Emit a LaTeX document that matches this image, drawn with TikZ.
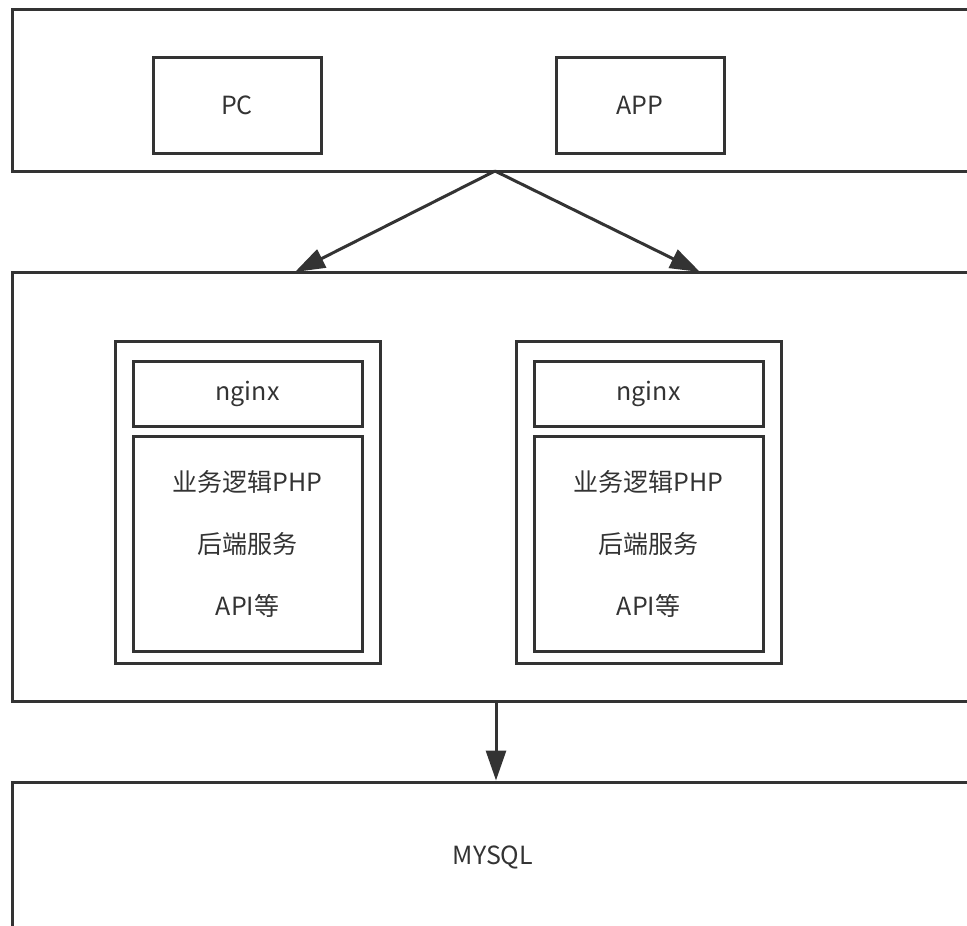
\documentclass[tikz,border=0pt]{standalone}
\usepackage{fontspec}
\setmainfont{Noto Sans CJK SC}
\usetikzlibrary{arrows.meta}
\definecolor{LineGray}{HTML}{333333}

\begin{document}
\begin{tikzpicture}[x=1pt,y=1pt,yscale=-1,xscale=1,
	frame/.style={draw=LineGray, line width=3pt, inner sep=0pt},
	txt/.style={text=LineGray, font=\fontsize{25}{30}\selectfont},
	flow/.style={draw=LineGray, line width=3pt, -{Triangle[length=30pt,width=20pt]}}]
		% Set diagram to 967 x 926, the wide bars run off the right edge
		\useasboundingbox (0,0) rectangle (967,926);
		\clip (0,0) rectangle (967,926);

		% Client bar with PC and APP
		\node[frame, minimum width=988pt, minimum height=162pt] (clients) at (506,90) {};
		\node[frame, txt, minimum width=168pt, minimum height=96pt] (pc) at (237,105) {PC};
		\node[frame, txt, minimum width=168pt, minimum height=96pt] (app) at (640,105) {APP};

		% Server bar
		\node[frame, minimum width=988pt, minimum height=429pt] (servers) at (506,486.5) {};

		% Left web server
		\node[frame, minimum width=265pt, minimum height=322pt] (webL) at (247.5,502) {};
		\node[frame, txt, minimum width=229pt, minimum height=65pt] (nginxL) at (247.5,393.5) {nginx};
		\node[frame, txt, minimum width=229pt, minimum height=215pt, align=center,
			font=\fontsize{25}{62}\selectfont] (logicL) at (247.5,543.5) {业务逻辑PHP\\后端服务\\API等};

		% Right web server
		\node[frame, minimum width=265pt, minimum height=322pt] (webR) at (648.5,502) {};
		\node[frame, txt, minimum width=229pt, minimum height=65pt] (nginxR) at (648.5,393.5) {nginx};
		\node[frame, txt, minimum width=229pt, minimum height=215pt, align=center,
			font=\fontsize{25}{62}\selectfont] (logicR) at (648.5,543.5) {业务逻辑PHP\\后端服务\\API等};

		% Database bar
		\node[frame, minimum width=988pt, minimum height=218pt] (db) at (506,891) {};
		\node[txt] (dbtext) at (493,857) {MYSQL};

		% Arrows between the bars
		\coordinate (fork) at (495,171);
		\coordinate (hitL) at (295,272);
		\coordinate (hitR) at (700,272);
		\coordinate (drop) at (496,701);
		\draw[flow] (fork) -- (hitL);
		\draw[flow] (fork) -- (hitR);
		\draw[flow] (drop) -- (drop |- db.north);
\end{tikzpicture}
\end{document}
